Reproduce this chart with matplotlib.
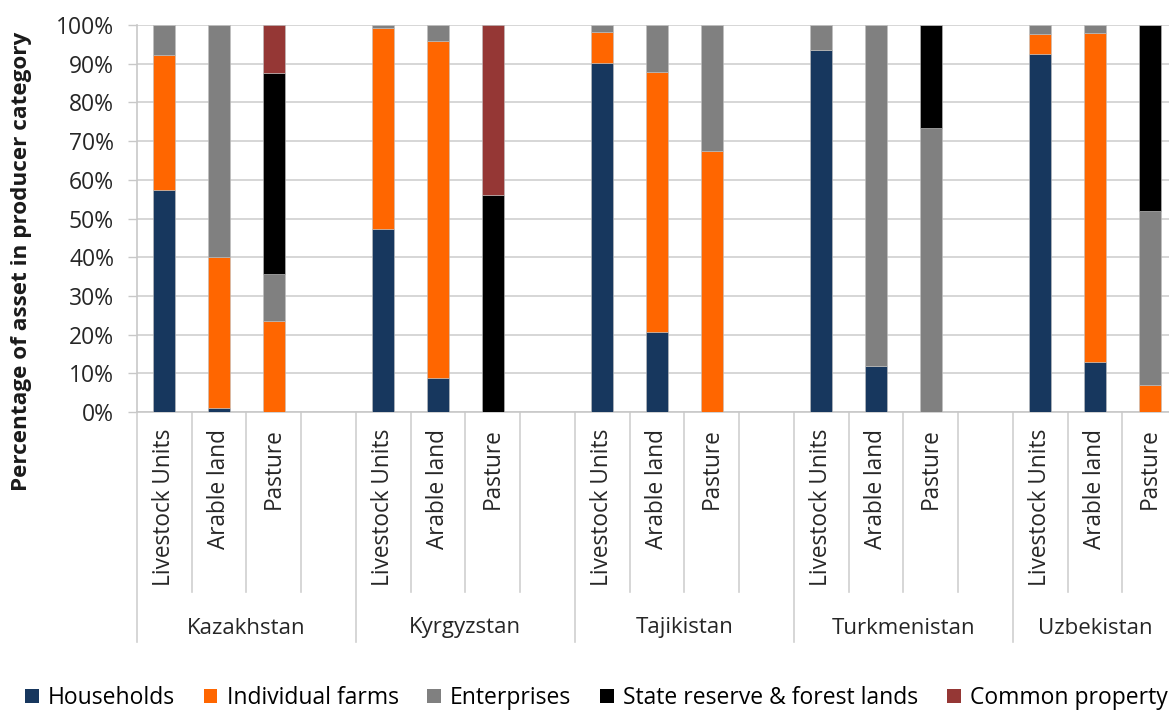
import numpy as np
import matplotlib
matplotlib.use("Agg")
from matplotlib import pyplot as plt
from matplotlib.patches import Patch

plt.rcParams['font.family'] = ['Open Sans', 'DejaVu Sans']

countries = ["Kazakhstan", "Kyrgyzstan", "Tajikistan", "Turkmenistan", "Uzbekistan"]
assets = ["Livestock Units", "Arable land", "Pasture"]
producers = ["Households", "Individual farms", "Enterprises",
             "State reserve & forest lands", "Common property"]
colors = ["#17375E", "#FF6600", "#808080", "#000000", "#953735"]

# shares in %, one list per producer, order: country x asset
households = [57.3, 1.0, 0.0,  47.3, 8.7, 0.0,  90.3, 20.8, 0.0,  93.5, 11.9, 0.0,  92.5, 12.9, 0.0]
indiv_farms = [34.9, 39.0, 23.4,  51.8, 87.2, 0.0,  7.9, 67.1, 67.4,  0.0, 0.0, 0.0,  5.3, 85.0, 6.9]
enterprises = [7.8, 60.0, 12.3,  0.9, 4.1, 0.0,  1.8, 12.1, 32.6,  6.5, 88.1, 73.4,  2.2, 2.1, 45.1]
state_reserve = [0.0, 0.0, 51.9,  0.0, 0.0, 56.1,  0.0, 0.0, 0.0,  0.0, 0.0, 26.6,  0.0, 0.0, 48.0]
common_prop = [0.0, 0.0, 12.4,  0.0, 0.0, 43.9,  0.0, 0.0, 0.0,  0.0, 0.0, 0.0,  0.0, 0.0, 0.0]
series = [households, indiv_farms, enterprises, state_reserve, common_prop]

W, H = 1169, 710
fig = plt.figure(figsize=(W / 100, H / 100), dpi=100)
ax_left, ax_right, ax_top, ax_bot = 137, 1177, 25, 412
ax = fig.add_axes([ax_left / W, 1 - ax_bot / H, (ax_right - ax_left) / W, (ax_bot - ax_top) / H])

# slot positions: 4 slots per country (3 bars + gap), last country has no gap
x = np.array([4 * g + i for g in range(len(countries)) for i in range(len(assets))])
nslots = 4 * (len(countries) - 1) + len(assets)

bottom = np.zeros(len(x))
for name, vals, c in zip(producers, series, colors):
    vals = np.array(vals)
    ax.bar(x, vals, 0.4, bottom=bottom, color=c, label=name, zorder=3,
           edgecolor="#BFBFBF", linewidth=0.4)
    bottom += vals

ax.set_xlim(-0.5, nslots - 0.5)
ax.set_ylim(0, 100)
ax.set_yticks(np.arange(0, 101, 10))
ax.set_yticklabels([f"{v}%" for v in range(0, 101, 10)], fontsize=16.5, color="#262626")
ax.yaxis.grid(True, color="#D0D0D0", linewidth=1.2)
ax.set_axisbelow(True)
ax.tick_params(axis="y", length=6.5, width=1, color="#C8C8C8", pad=10)
for s in ["top", "right"]:
    ax.spines[s].set_visible(False)
for s in ["left", "bottom"]:
    ax.spines[s].set_color("#C8C8C8")
    ax.spines[s].set_linewidth(1.2)

ax.set_xticks(x)
ax.set_xticklabels([a for _ in countries for a in assets], rotation=90,
                   fontsize=16.3, color="#262626", va="top")
ax.tick_params(axis="x", length=0, pad=12)

# separators
trans = ax.get_xaxis_transform()
h_ax = ax_bot - ax_top
minor_end = -(592 - ax_bot) / h_ax
major_end = -(642 - ax_bot) / h_ax
for k in range(nslots + 1):
    xb = k - 0.5
    end = major_end if (k % 4 == 0 or k == nslots) else minor_end
    ax.plot([xb, xb], [0, end], transform=trans, color="#D0D0D0", lw=1.2, clip_on=False)

for g, c in enumerate(countries):
    n = 4 if g < len(countries) - 1 else len(assets)
    xc = 4 * g + (n - 1) / 2
    ax.text(xc, -(628 - ax_bot) / h_ax, c, transform=trans, ha="center", va="center",
            fontsize=16, color="#262626")

fig.text(22 / W, 1 - 261 / H, "Percentage of asset in producer category", rotation=90,
         ha="center", va="center", fontsize=16.2, fontweight="bold", color="#1a1a1a")

handles = [Patch(facecolor=c, edgecolor="none") for c in colors]
fig.legend(handles, producers, loc="center left", bbox_to_anchor=(25 / W, 1 - 698 / H),
           ncol=5, frameon=False, fontsize=16.5, handlelength=0.6, handleheight=0.6,
           handletextpad=0.4, columnspacing=1.25, borderaxespad=0, borderpad=0)

fig.savefig("out.png", dpi=100)
